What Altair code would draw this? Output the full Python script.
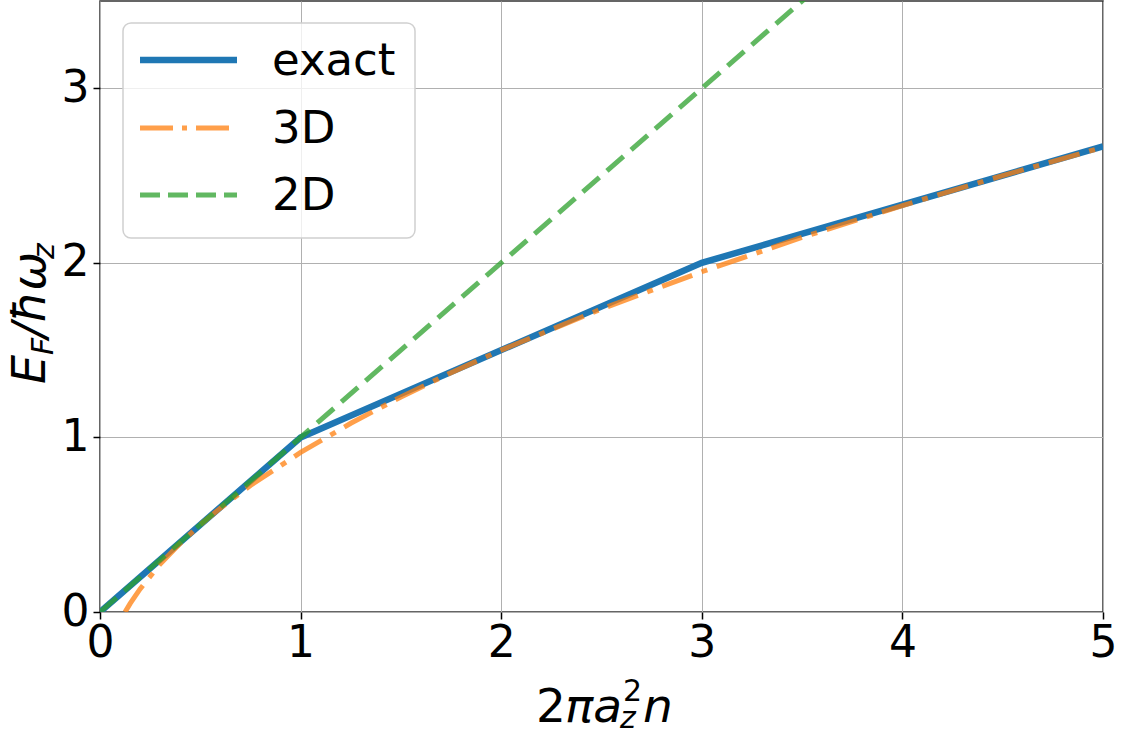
import altair as alt
import pandas as pd

# ---- data ----
exact_x = [0, 1, 3, 5]
exact_y = [0, 1, 2, 2.667]

d3_x = [0.125, 0.15, 0.2, 0.3, 0.4, 0.5, 0.6, 0.75, 1.0, 1.25, 1.5, 1.75, 2.0, 2.5, 3.0, 3.5, 4.0, 4.5, 5.0]
d3_y = [0.0, 0.048, 0.132, 0.275, 0.394, 0.5, 0.595, 0.725, 0.914, 1.081, 1.232, 1.371, 1.5, 1.736, 1.949, 2.146, 2.328, 2.5, 2.662]

d2_x = [0, 5]
d2_y = [0, 5]

x_ticks = [0, 1, 2, 3, 4, 5]
y_ticks = [0, 1, 2, 3]

legend_labels = ["exact", "3D", "2D"]

W, H = 1003, 611
FONT = "DejaVu Sans"

xs = alt.Scale(domain=[0, 5], nice=False, zero=False)
ys = alt.Scale(domain=[0, 3.5], nice=False, zero=False)

df_exact = pd.DataFrame({"x": exact_x, "y": exact_y})
df_3d = pd.DataFrame({"x": d3_x, "y": d3_y})
df_2d = pd.DataFrame({"x": d2_x, "y": d2_y})

xaxis = alt.Axis(values=x_ticks, title=None, labelFontSize=44, labelFont=FONT, labelColor="black",
                 tickColor="black", tickSize=7, tickWidth=1.5, domain=False, grid=True,
                 gridColor="#b0b0b0", gridWidth=1, labelPadding=2, labelFlush=False, format="d")
yaxis = alt.Axis(values=y_ticks, title=None, labelFontSize=44, labelFont=FONT, labelColor="black",
                 tickColor="black", tickSize=7, tickWidth=1.5, domain=False, grid=True,
                 gridColor="#b0b0b0", gridWidth=1, labelPadding=4, labelFlush=False, format="d")

base_exact = alt.Chart(df_exact).mark_line(color="#1f77b4", strokeWidth=6.5, clip=True).encode(
    x=alt.X("x:Q", scale=xs, axis=xaxis),
    y=alt.Y("y:Q", scale=ys, axis=yaxis),
)
line_3d = alt.Chart(df_3d).mark_line(color="#ff7f0e", strokeWidth=5, opacity=0.75,
                                     strokeDash=[32, 10, 6, 10], clip=True).encode(
    x=alt.X("x:Q", scale=xs), y=alt.Y("y:Q", scale=ys))
line_2d = alt.Chart(df_2d).mark_line(color="#2ca02c", strokeWidth=5, opacity=0.75,
                                     strokeDash=[22, 10], clip=True).encode(
    x=alt.X("x:Q", scale=xs), y=alt.Y("y:Q", scale=ys))

one = alt.Data(values=[{}])
OX, OY = 100, 1  # plot origin in the page


def txt(s, x, y, size, italic=True, angle=0):
    kw = dict(text=s, align="left", baseline="alphabetic", fontSize=size, font=FONT, color="black")
    if italic:
        kw["fontStyle"] = "italic"
    if angle:
        kw["angle"] = angle
    return alt.Chart(one).mark_text(**kw).encode(x=alt.value(x - OX), y=alt.value(y - OY))


# legend
leg_box = alt.Chart(one).mark_rect(fill="white", fillOpacity=0.8, stroke="#d0d0d0", strokeWidth=1.5,
                                   cornerRadius=8).encode(
    x=alt.value(123 - OX), x2=alt.value(415 - OX), y=alt.value(23 - OY), y2=alt.value(238 - OY))
leg_exact = alt.Chart(one).mark_rule(color="#1f77b4", strokeWidth=6.5).encode(
    x=alt.value(140 - OX), x2=alt.value(237 - OX), y=alt.value(60 - OY))
leg_3d = alt.Chart(one).mark_rule(color="#ff7f0e", strokeWidth=5, opacity=0.75,
                                  strokeDash=[33, 9, 5, 9]).encode(
    x=alt.value(140 - OX), x2=alt.value(237 - OX), y=alt.value(128 - OY))
leg_2d = alt.Chart(one).mark_rule(color="#2ca02c", strokeWidth=5, opacity=0.75,
                                  strokeDash=[20, 8]).encode(
    x=alt.value(140 - OX), x2=alt.value(237 - OX), y=alt.value(195 - OY))
leg_t1 = txt(legend_labels[0], 272, 75, 45, italic=False)
leg_t2 = txt(legend_labels[1], 272, 143, 45, italic=False)
leg_t3 = txt(legend_labels[2], 272, 210, 45, italic=False)

# x title: 2 pi a_z^2 n
xt = [
    txt("2", 536, 722, 47, italic=False),
    txt("πa", 565, 722, 47),
    txt("2", 623, 701, 30, italic=False),
    txt("z", 620, 728, 30),
    txt("n", 643, 722, 47),
]
# y title: E_F / hbar omega_z  (rotated)
yt = [
    txt("E", 45, 384, 46, angle=270),
    txt("F", 53, 355, 30, angle=270),
    txt("/ħω", 45, 338, 46, angle=270),
    txt("z", 54, 259, 30, angle=270),
]

chart = alt.layer(
    base_exact, line_3d, line_2d,
    leg_box, leg_exact, leg_3d, leg_2d, leg_t1, leg_t2, leg_t3,
    *xt, *yt,
).properties(
    width=W, height=H,
    autosize=alt.AutoSizeParams(type="none"),
    padding={"left": OX, "top": OY, "right": 1123 - OX - W, "bottom": 735 - OY - H},
    background="white",
).configure_view(stroke="#333333", strokeWidth=1.5)

chart.save("out.html", embed_options={"renderer": "svg", "actions": False})
